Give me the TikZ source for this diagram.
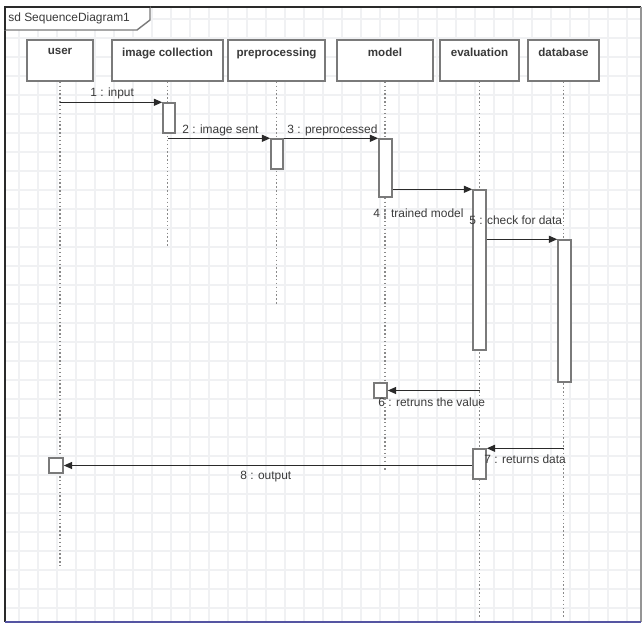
\documentclass[tikz,border=0pt]{standalone}
\usepackage{fontspec}
\setmainfont{Liberation Sans}
\usetikzlibrary{arrows.meta}
\definecolor{linec}{HTML}{2A2A2A}
\definecolor{boxc}{HTML}{7A7A7A}
\definecolor{txtc}{HTML}{3A3A3A}
\definecolor{gridc}{HTML}{F0F1F3}
\definecolor{lifec}{HTML}{8A8A8A}
\begin{document}
\begin{tikzpicture}[x=0.02cm,y=-0.02cm,
  hdr/.style 2 args={draw=boxc,line width=1pt,fill=white,inner sep=0pt,
     minimum width=#1*0.02cm,minimum height=#2*0.02cm},
  hdrtext/.style={anchor=north,yshift=-0.17cm,inner sep=0pt,text=txtc,
     font=\fontsize{6.6}{7}\selectfont\bfseries},
  act/.style 2 args={draw=boxc,line width=0.8pt,fill=white,inner sep=0pt,
     minimum width=#1*0.02cm,minimum height=#2*0.02cm},
  life/.style={draw=lifec,line width=1pt,dash pattern=on 0.8pt off 1.4pt},
  msg/.style={draw=linec,line width=0.8pt,-{Triangle[length=0.17cm,width=0.14cm]}},
  lbl/.style={anchor=west,inner sep=0pt,text=txtc,font=\fontsize{6.8}{7}\selectfont},
]
\useasboundingbox (0,0) rectangle (644,628);
\fill[white] (0,0) rectangle (644,628);
% grid
\draw[gridc,line width=0.7pt,step=0.38cm] (5,7) grid (641,622);
% frame
\draw[draw=linec,line width=1.1pt] (641,7) -- (5,7) -- (5,622);
\draw[draw=boxc!80,line width=1pt] (641,7) -- (641,622);
\draw[draw=boxc!70!blue,line width=1.4pt] (5,622) -- (641,622);
\draw[draw=boxc,line width=0.8pt,fill=white] (5,7) -- (150,7) -- (150,20) -- (137,30) -- (5,30) -- cycle;
\draw[draw=linec,line width=1.1pt] (150,7) -- (5,7) -- (5,30);
\node[lbl,font=\fontsize{6.8}{7}\selectfont] (title) at (8,18.5) {sd SequenceDiagram1};

% headers
\node[hdr={66}{41},label={[hdrtext]north:user}] (user) at (60,60.5) {};
\node[hdr={111}{41},label={[hdrtext]north:image collection}] (ic) at (167.5,60.5) {};
\node[hdr={97}{41},label={[hdrtext]north:preprocessing}] (pre) at (276.5,60.5) {};
\node[hdr={96}{41},label={[hdrtext]north:model}] (model) at (385,60.5) {};
\node[hdr={79}{41},label={[hdrtext]north:evaluation}] (eval) at (479.5,60.5) {};
\node[hdr={71}{41},label={[hdrtext]north:database}] (db) at (563.5,60.5) {};

% lifeline ends
\coordinate (userEnd) at (61,566);
\coordinate (icEnd) at (169,248);
\coordinate (preEnd) at (277,305);
\coordinate (modelEnd) at (387,472);
\coordinate (evalEnd) at (480,618);
\coordinate (dbEnd) at (565,618);
\draw[life] (user.south) -- (user.south |- userEnd);
\draw[life] (ic.south) -- (ic.south |- icEnd);
\draw[life] (pre.south) -- (pre.south |- preEnd);
\draw[life] (model.south) -- (model.south |- modelEnd);
\draw[life] (eval.south) -- (eval.south |- evalEnd);
\draw[life] (db.south) -- (db.south |- dbEnd);

% activations
\node[act={12}{30}] (a1) at (169,118) {};
\node[act={12}{30}] (a2) at (277,154) {};
\node[act={13}{58}] (a3) at (385.5,168) {};
\node[act={13}{160}] (a4) at (479.5,270) {};
\node[act={13}{142}] (a5) at (564.5,311) {};
\node[act={13}{15}] (m2) at (380.5,390.5) {};
\node[act={13}{30}] (a6) at (479.5,464) {};
\node[act={14}{15}] (u2) at (56,465.5) {};

% messages
\draw[msg] (a1.north west -| user.south) -- (a1.north west);
\draw[msg] (a2.north west -| ic.south) -- (a2.north west);
\draw[msg] (a2.north east) -- (a3.north west);
\draw[msg] (a4.north west -| a3.east) -- (a4.north west);
\draw[msg] (a5.north west -| a4.east) -- (a5.north west);
\draw[msg] (m2.east -| eval.south) -- (m2.east);
\draw[msg] (a6.north east -| db.south) -- (a6.north east);
\draw[msg] (u2.east -| a6.west) -- (u2.east);

% labels
\node[lbl] (l1) at (90,93) {1 : input};
\node[lbl] (l2) at (182,130) {2 : image sent};
\node[lbl] (l3) at (287,130) {3 : preprocessed};
\node[lbl] (l4) at (373,213) {4 : trained model};
\node[lbl] (l5) at (469,220) {5 : check for data};
\node[lbl] (l6) at (378,402) {6 : retruns the value};
\node[lbl] (l7) at (484,459) {7 : returns data};
\node[lbl] (l8) at (240,477) {8 : output};
\end{tikzpicture}
\end{document}
